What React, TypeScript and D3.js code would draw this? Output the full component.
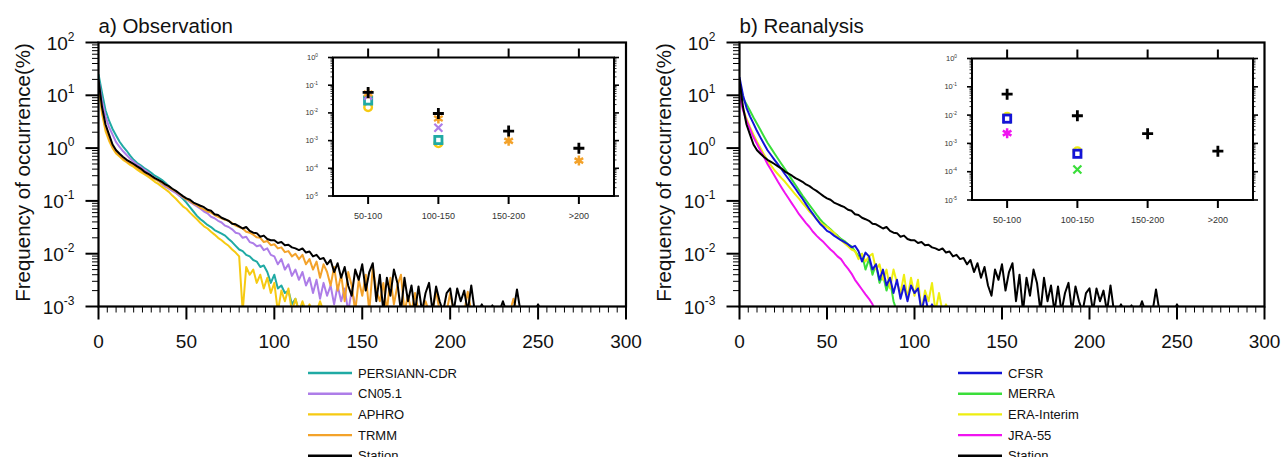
import React from 'react';
import * as d3 from 'd3';

// frequency of occurrence (%) for rain bins 0, 2, 4, ... mm/day
const STEP = 2;

const STATION = [20, 6.0, 2.8, 1.8, 1.17, 0.91, 0.78, 0.68, 0.60, 0.55, 0.50, 0.45, 0.41, 0.36, 0.33, 0.30, 0.27, 0.25, 0.23, 0.205,
  0.19, 0.17, 0.155, 0.138, 0.123, 0.112, 0.105, 0.093, 0.087, 0.081, 0.076, 0.068, 0.065, 0.056, 0.054, 0.048, 0.045, 0.042, 0.037, 0.036,
  0.033, 0.030, 0.032, 0.027, 0.025, 0.0245, 0.021, 0.022, 0.019, 0.018, 0.018, 0.016, 0.0166, 0.0145, 0.0148, 0.0132, 0.0126, 0.0117, 0.0126, 0.0105,
  0.011, 0.0089, 0.0095, 0.0079, 0.0083, 0.0063, 0.0076, 0.0045, 0.0066, 0.0035, 0.0056, 0.0025, 0.0016, 0.005, 0.0032, 0.0063, 0.002, 0.0045, 0.0066, 0.00126,
  0.004, 0.0008, 0.0035, 0.0016, 0.005, 0.0028, 0.0008, 0.0035, 0.00126, 0.0025, 0.0008, 0.0024, 0.0008, 0.0018, 0.0028, 0.0008, 0.0024, 0.00126, 0.0008, 0.0018,
  0.0022, 0.0008, 0.0022, 0.00126, 0.002, 0.0008, 0.0025, 0.0008, 0.0008, 0.0011, 0.0008, 0.0008, 0.00105, 0.0008, 0.0008, 0.00126, 0.0008, 0.0008, 0.0008, 0.0021,
  0.0008, 0.0008, 0.0008, 0.0008, 0.0008, 0.0011, 0.0008, 0.0008, 0.0008];

const TRMM = [17.8, 5.0, 2.4, 1.5, 1.05, 0.83, 0.72, 0.63, 0.56, 0.51, 0.47, 0.42, 0.38, 0.34, 0.31, 0.28, 0.26, 0.24, 0.22, 0.20,
  0.18, 0.166, 0.151, 0.135, 0.12, 0.107, 0.1, 0.089, 0.083, 0.074, 0.069, 0.063, 0.06, 0.054, 0.05, 0.047, 0.044, 0.042, 0.038, 0.034,
  0.032, 0.030, 0.026, 0.025, 0.023, 0.0204, 0.02, 0.0166, 0.0174, 0.0145, 0.0151, 0.0126, 0.0132, 0.0107, 0.0112, 0.0089, 0.01, 0.0079, 0.0095, 0.0063,
  0.0079, 0.005, 0.0071, 0.0035, 0.0063, 0.0045, 0.0025, 0.0056, 0.002, 0.004, 0.00126, 0.0045, 0.0025, 0.0008, 0.0032, 0.0016, 0.004, 0.0008, 0.0056, 0.002,
  0.00126, 0.0028, 0.0008, 0.0035, 0.0011, 0.0025, 0.004, 0.0008, 0.0016, 0.0008, 0.0018, 0.0008, 0.0008, 0.00126, 0.0008, 0.0008, 0.002, 0.0008, 0.0008, 0.0008,
  0.0018, 0.0008, 0.0008, 0.0008, 0.0008, 0.0019, 0.0008, 0.0008, 0.0008, 0.0008, 0.0008, 0.0008, 0.0008, 0.0008, 0.0008, 0.0008, 0.0008, 0.0008, 0.0014, 0.0008, 0.0008];

const CN05 = [20, 7.9, 4.0, 2.5, 1.8, 1.3, 1.05, 0.87, 0.74, 0.63, 0.55, 0.49, 0.44, 0.39, 0.35, 0.30, 0.27, 0.24, 0.21, 0.186,
  0.17, 0.155, 0.141, 0.126, 0.117, 0.107, 0.095, 0.087, 0.079, 0.071, 0.063, 0.058, 0.05, 0.047, 0.042, 0.039, 0.034, 0.032, 0.029, 0.025,
  0.024, 0.02, 0.021, 0.0166, 0.0158, 0.0138, 0.0145, 0.0117, 0.0126, 0.0095, 0.0089, 0.0063, 0.0079, 0.005, 0.0063, 0.0038, 0.005, 0.0032, 0.0045, 0.0025,
  0.0035, 0.0018, 0.0032, 0.0014, 0.0028, 0.0016, 0.0025, 0.0011, 0.0025, 0.00126, 0.0022, 0.0008, 0.002, 0.0011, 0.0008];

const PERSIANN = [25, 11.2, 5.2, 3.3, 2.3, 1.74, 1.32, 1.07, 0.89, 0.72, 0.60, 0.52, 0.47, 0.42, 0.38, 0.34, 0.30, 0.275, 0.25, 0.22,
  0.19, 0.166, 0.148, 0.126, 0.11, 0.093, 0.076, 0.063, 0.052, 0.045, 0.04, 0.035, 0.032, 0.028, 0.026, 0.024, 0.022, 0.019, 0.0166, 0.0141,
  0.012, 0.0112, 0.0095, 0.0089, 0.0076, 0.0071, 0.0056, 0.006, 0.0045, 0.0028, 0.004, 0.0022, 0.0025, 0.0018, 0.002, 0.0011, 0.0014, 0.0008, 0.0011, 0.0008];

const APHRO = [15.8, 4.5, 2.1, 1.38, 1.0, 0.79, 0.69, 0.60, 0.54, 0.48, 0.44, 0.39, 0.35, 0.32, 0.29, 0.26, 0.23, 0.21, 0.186, 0.166,
  0.148, 0.126, 0.11, 0.093, 0.079, 0.071, 0.06, 0.052, 0.045, 0.038, 0.033, 0.03, 0.026, 0.023, 0.02, 0.018, 0.0158, 0.0141, 0.012, 0.0105,
  0.0089, 0.0008, 0.0056, 0.004, 0.005, 0.0028, 0.004, 0.0022, 0.0035, 0.0018, 0.0028, 0.0008, 0.002, 0.00126, 0.0022, 0.0008, 0.0014, 0.0008, 0.00126, 0.0008,
  0.0011, 0.0008, 0.0008, 0.00126, 0.0008];

const CFSR = [22, 10, 5.8, 4.0, 2.9, 2.1, 1.58, 1.2, 0.91, 0.74, 0.60, 0.49, 0.40, 0.32, 0.26, 0.21, 0.17, 0.135, 0.11, 0.087,
  0.069, 0.056, 0.045, 0.037, 0.032, 0.027, 0.025, 0.022, 0.02, 0.018, 0.0166, 0.0151, 0.0132, 0.0141, 0.0112, 0.0071, 0.0105, 0.0089, 0.005, 0.0063,
  0.0032, 0.005, 0.0025, 0.0035, 0.0018, 0.0032, 0.0014, 0.0025, 0.00126, 0.0025, 0.0018, 0.0022, 0.0008, 0.0016, 0.0008, 0.0011, 0.0008];

const MERRA = [12.6, 8.9, 6.8, 5.1, 3.8, 2.9, 2.2, 1.66, 1.26, 1.0, 0.79, 0.63, 0.5, 0.4, 0.32, 0.25, 0.2, 0.158, 0.126, 0.102,
  0.083, 0.068, 0.055, 0.045, 0.038, 0.033, 0.029, 0.025, 0.022, 0.019, 0.0174, 0.0151, 0.0138, 0.0112, 0.0089, 0.01, 0.005, 0.0079, 0.004, 0.0063,
  0.0028, 0.004, 0.002, 0.0032, 0.00126, 0.0008];

const ERA_INTERIM = [10, 5.6, 3.6, 2.5, 1.8, 1.32, 1.0, 0.76, 0.58, 0.47, 0.38, 0.32, 0.27, 0.23, 0.19, 0.158, 0.132, 0.11, 0.091, 0.076,
  0.063, 0.054, 0.046, 0.04, 0.035, 0.032, 0.028, 0.025, 0.021, 0.018, 0.0158, 0.0138, 0.012, 0.0112, 0.0079, 0.01, 0.0071, 0.0089, 0.01, 0.005,
  0.0063, 0.0032, 0.005, 0.0022, 0.005, 0.0028, 0.0018, 0.004, 0.0014, 0.0035, 0.0016, 0.0032, 0.0008, 0.002, 0.00126, 0.0028, 0.0008, 0.0018, 0.0008, 0.0011, 0.0008];

const JRA55 = [10, 5.2, 3.3, 2.3, 1.6, 1.2, 0.89, 0.68, 0.5, 0.39, 0.3, 0.23, 0.18, 0.141, 0.112, 0.089, 0.071, 0.056, 0.046, 0.038,
  0.032, 0.026, 0.022, 0.019, 0.0166, 0.0141, 0.012, 0.0105, 0.0089, 0.0079, 0.0063, 0.0052, 0.0042, 0.0032, 0.0026, 0.0021, 0.0017, 0.0014, 0.0011, 0.0008];

// inset: frequency (%) in heavy-rain classes
const CLASSES = ['50-100', '100-150', '150-200', '>200'];
const IN_STATION = [5.5e-2, 9.5e-3, 2.2e-3, 5.3e-4];
const IN_TRMM = [5.0e-2, 6.3e-3, 9.8e-4, 1.9e-4];
const IN_CN05 = [4.2e-2, 2.9e-3, null, null];
const IN_PERSIANN = [2.8e-2, 1.05e-3, null, null];
const IN_APHRO = [1.6e-2, 8.0e-4, null, null];
const IN_CFSR = [7.5e-3, 4.3e-4, null, null];
const IN_MERRA = [7.2e-3, 1.2e-4, null, null];
const IN_ERA = [8.8e-3, 5.3e-4, null, null];
const IN_JRA = [2.3e-3, null, null, null];

const X_TICKS = [0, 50, 100, 150, 200, 250, 300];
const Y_EXPONENTS = [-3, -2, -1, 0, 1, 2];
const INSET_EXPONENTS = [-5, -4, -3, -2, -1, 0];

const C = {
  persiann: '#20aaa4', cn05: '#ad7de8', aphro: '#f6ca12', trmm: '#f3a22a', station: '#000000',
  cfsr: '#1414d6', merra: '#3ade3a', era: '#eeee10', jra: '#f014f0',
};

const FONT = '"Liberation Sans", Arial, Helvetica, sans-serif';

type Series = { name: string; values: number[]; color: string };
type InsetSeries = { values: (number | null)[]; color: string; marker: string };

const PANELS = [
  {
    id: 'a', title: 'a) Observation', left: 98.5, right: 626, top: 42.5, bottom: 306.5,
    lines: [
      { name: 'PERSIANN-CDR', values: PERSIANN, color: C.persiann },
      { name: 'CN05.1', values: CN05, color: C.cn05 },
      { name: 'APHRO', values: APHRO, color: C.aphro },
      { name: 'TRMM', values: TRMM, color: C.trmm },
      { name: 'Station', values: STATION, color: C.station },
    ] as Series[],
    legendOrder: ['PERSIANN-CDR', 'CN05.1', 'APHRO', 'TRMM', 'Station'],
    legendX: 308,
    inset: { left: 333, right: 614, top: 57.5, bottom: 196 },
    insetSeries: [
      { values: IN_APHRO, color: C.aphro, marker: 'circle' },
      { values: IN_PERSIANN, color: C.persiann, marker: 'square' },
      { values: IN_CN05, color: C.cn05, marker: 'cross' },
      { values: IN_TRMM, color: C.trmm, marker: 'star' },
      { values: IN_STATION, color: C.station, marker: 'plus' },
    ] as InsetSeries[],
  },
  {
    id: 'b', title: 'b) Reanalysis', left: 739.5, right: 1264.5, top: 42.5, bottom: 306.5,
    lines: [
      { name: 'MERRA', values: MERRA, color: C.merra },
      { name: 'ERA-Interim', values: ERA_INTERIM, color: C.era },
      { name: 'JRA-55', values: JRA55, color: C.jra },
      { name: 'CFSR', values: CFSR, color: C.cfsr },
      { name: 'Station', values: STATION, color: C.station },
    ] as Series[],
    legendOrder: ['CFSR', 'MERRA', 'ERA-Interim', 'JRA-55', 'Station'],
    legendX: 958,
    inset: { left: 972, right: 1253, top: 58.5, bottom: 200 },
    insetSeries: [
      { values: IN_ERA, color: C.era, marker: 'circle' },
      { values: IN_MERRA, color: C.merra, marker: 'cross' },
      { values: IN_CFSR, color: C.cfsr, marker: 'square' },
      { values: IN_JRA, color: C.jra, marker: 'star' },
      { values: IN_STATION, color: C.station, marker: 'plus' },
    ] as InsetSeries[],
  },
];

function Marker({ type, color }: { type: string; color: string }) {
  if (type === 'plus') return <path d="M-5.5,0H5.5M0,-5.5V5.5" stroke={color} strokeWidth={2.8} fill="none" />;
  if (type === 'cross') return <path d="M-4,-4L4,4M-4,4L4,-4" stroke={color} strokeWidth={2.2} fill="none" />;
  if (type === 'square') return <rect x={-3.6} y={-3.6} width={7.2} height={7.2} stroke={color} strokeWidth={2.8} fill="white" />;
  if (type === 'circle') return <circle r={3.8} stroke={color} strokeWidth={2.4} fill="none" />;
  // asterisk
  return <path d="M0,-5V5M-4.3,-2.5L4.3,2.5M-4.3,2.5L4.3,-2.5" stroke={color} strokeWidth={2.5} fill="none" />;
}

function Inset({ box, series }: { box: { left: number; right: number; top: number; bottom: number }; series: InsetSeries[] }) {
  const x = d3.scalePoint<string>().domain(CLASSES).range([box.left, box.right]).padding(0.5);
  const y = d3.scaleLog().domain([1e-5, 1]).range([box.bottom, box.top]);
  const minors: number[] = [];
  for (let k = -5; k < 0; k++) for (let m = 2; m <= 9; m++) minors.push(m * Math.pow(10, k));
  return (
    <g>
      <rect x={box.left} y={box.top} width={box.right - box.left} height={box.bottom - box.top} fill="white" />
      {INSET_EXPONENTS.map((e) => (
        <g key={e}>
          <line x1={box.left - 5} x2={box.left} y1={y(Math.pow(10, e))} y2={y(Math.pow(10, e))} stroke="#000" strokeWidth={1.6} />
          <line x1={box.right} x2={box.right + 5} y1={y(Math.pow(10, e))} y2={y(Math.pow(10, e))} stroke="#000" strokeWidth={1.6} />
          <text x={box.left - 15} y={y(Math.pow(10, e)) + 2.5} fontSize={7.5} textAnchor="end" fill="#333" fontFamily={FONT}>
            10<tspan dy={-3} fontSize={4.8}>{e}</tspan>
          </text>
        </g>
      ))}
      {minors.map((v, i) => (
        <g key={i}>
          <line x1={box.left - 2.5} x2={box.left} y1={y(v)} y2={y(v)} stroke="#000" strokeWidth={0.8} />
          <line x1={box.right} x2={box.right + 2.5} y1={y(v)} y2={y(v)} stroke="#000" strokeWidth={0.8} />
        </g>
      ))}
      {CLASSES.map((c) => (
        <g key={c}>
          <line x1={x(c)} x2={x(c)} y1={box.top - 9} y2={box.top} stroke="#000" strokeWidth={2} />
          <line x1={x(c)} x2={x(c)} y1={box.bottom} y2={box.bottom + 8} stroke="#000" strokeWidth={2} />
          <text x={x(c)} y={box.bottom + 22.5} fontSize={9} textAnchor="middle" fill="#333" fontFamily={FONT}>{c}</text>
        </g>
      ))}
      <rect x={box.left} y={box.top} width={box.right - box.left} height={box.bottom - box.top} fill="none" stroke="#000" strokeWidth={2} />
      {series.map((s, si) => (
        <g key={si}>
          {s.values.map((v, i) => (v == null ? null : (
            <g key={i} transform={`translate(${x(CLASSES[i])},${y(v)})`}>
              <Marker type={s.marker} color={s.color} />
            </g>
          )))}
        </g>
      ))}
    </g>
  );
}

function Panel({ p }: { p: typeof PANELS[number] }) {
  const x = d3.scaleLinear().domain([0, 300]).range([p.left, p.right]);
  const y = d3.scaleLog().domain([1e-3, 100]).range([p.bottom, p.top]);
  const line = d3.line<number>().x((_, i) => x(i * STEP)).y((d) => y(d));
  const minorY: number[] = [];
  for (let k = -3; k < 2; k++) for (let m = 2; m <= 9; m++) minorY.push(m * Math.pow(10, k));
  const minorX = d3.range(0, 301, 5).filter((v) => v % 50 !== 0);
  const clipId = `clip-${p.id}`;
  const legendY = d3.scaleLinear().domain([0, 1]).range([373, 393.7]);
  return (
    <g>
      <defs>
        <clipPath id={clipId}>
          <rect x={p.left} y={p.top} width={p.right - p.left} height={p.bottom - p.top} />
        </clipPath>
      </defs>
      <g clipPath={`url(#${clipId})`}>
        {p.lines.map((s) => (
          <path key={s.name} d={line(s.values) || ''} fill="none" stroke={s.color} strokeWidth={2} strokeLinejoin="round" />
        ))}
      </g>
      <Inset box={p.inset} series={p.insetSeries} />
      {Y_EXPONENTS.map((e) => (
        <g key={e}>
          <line x1={p.left - 13} x2={p.left} y1={y(Math.pow(10, e))} y2={y(Math.pow(10, e))} stroke="#000" strokeWidth={2} />
          <text x={p.left - 24} y={y(Math.pow(10, e)) + 7} fontSize={19} textAnchor="end" fontFamily={FONT} fill="#111">
            10<tspan dy={-9} fontSize={12}>{e}</tspan>
          </text>
        </g>
      ))}
      {minorY.map((v, i) => (
        <line key={i} x1={p.left - 6.5} x2={p.left} y1={y(v)} y2={y(v)} stroke="#000" strokeWidth={1} />
      ))}
      {X_TICKS.map((t) => (
        <g key={t}>
          <line x1={x(t)} x2={x(t)} y1={p.bottom} y2={p.bottom + 13} stroke="#000" strokeWidth={2} />
          <text x={x(t)} y={p.bottom + 41.5} fontSize={19} textAnchor="middle" fontFamily={FONT} fill="#111">{t}</text>
        </g>
      ))}
      {minorX.map((t) => (
        <line key={t} x1={x(t)} x2={x(t)} y1={p.bottom} y2={p.bottom + 6} stroke="#000" strokeWidth={1} />
      ))}
      <rect x={p.left} y={p.top} width={p.right - p.left} height={p.bottom - p.top} fill="none" stroke="#000" strokeWidth={2.2} />
      <text x={p.left} y={33} fontSize={20.5} fontFamily={FONT} fill="#111">{p.title}</text>
      <text transform={`translate(${p.left - 76.5},${(p.top + p.bottom) / 2 - 2})rotate(-90)`} fontSize={20.5} textAnchor="middle"
        dominantBaseline="central" fontFamily={FONT} fill="#111">Frequency of occurrence(%)</text>
      {p.legendOrder.map((name, i) => {
        const s = p.lines.find((l) => l.name === name)!;
        const ly = legendY(i);
        return (
          <g key={name}>
            <line x1={p.legendX} x2={p.legendX + 44} y1={ly} y2={ly} stroke={s.color} strokeWidth={2.4} />
            <text x={p.legendX + 50} y={ly + 4.5} fontSize={13} fontFamily={FONT} fill="#111">{name}</text>
          </g>
        );
      })}
    </g>
  );
}

export default function App() {
  return (
    <svg width={1282} height={457} style={{ position: 'absolute', left: 0, top: 0, background: '#fff' }}>
      <rect width={1282} height={457} fill="#fff" />
      {PANELS.map((p) => <Panel key={p.id} p={p} />)}
    </svg>
  );
}
